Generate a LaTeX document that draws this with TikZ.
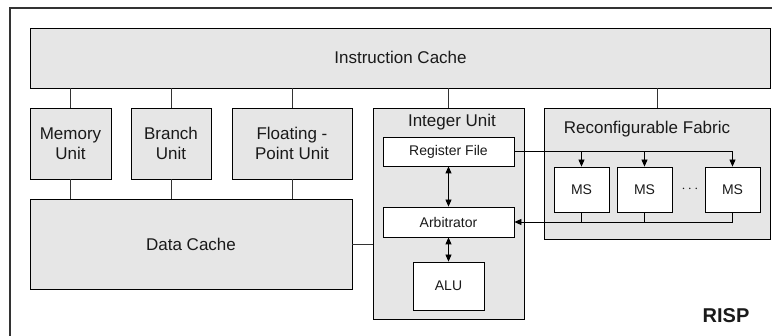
\documentclass[tikz,border=0pt]{standalone}
\usepackage{fontspec}
\setmainfont{Liberation Sans}
\usetikzlibrary{arrows.meta}
\definecolor{boxfill}{HTML}{E6E6E6}
\definecolor{txt}{HTML}{1A1A1A}
\begin{document}
\begin{tikzpicture}[x=1pt,y=-1pt,
  unit/.style={draw=black,fill=boxfill,line width=0.8pt,inner sep=0pt,text=txt,
    font=\fontsize{17}{20}\selectfont,align=center},
  small/.style={draw=black,fill=white,line width=0.8pt,inner sep=0pt,text=txt,
    font=\fontsize{14}{16}\selectfont,align=center},
  link/.style={line width=0.8pt,draw=black!80},
  arr/.style={line width=0.8pt,-{Triangle[length=7pt,width=6pt]}},
  darr/.style={line width=0.8pt,{Triangle[length=7pt,width=6pt]}-{Triangle[length=7pt,width=6pt]}}]
\useasboundingbox (0,0) rectangle (772,336);
\clip (0,0) rectangle (772,336);
\draw[line width=1.2pt,draw=black!80] (10,8) rectangle (790,350);

\node[unit,minimum width=740pt,minimum height=60pt] (ic) at (400,58) {};
\node[text=txt,font=\fontsize{17}{20}\selectfont] at (400.5,57) {Instruction Cache};

\node[unit,minimum width=81pt,minimum height=71pt] (mu) at (70.5,143.5) {Memory\\Unit};
\node[unit,minimum width=80pt,minimum height=71pt] (bu) at (171,143.5) {Branch\\Unit};
\node[unit,minimum width=120pt,minimum height=71pt] (fp) at (292,143.5) {Floating -\\Point Unit};
\node[unit,minimum width=322pt,minimum height=90pt] (dc) at (191,244) {Data Cache};

\node[unit,minimum width=151pt,minimum height=211pt] (iu) at (448.5,213.5) {};
\node[text=txt,font=\fontsize{17}{20}\selectfont] (iut) at (452,122) {Integer Unit};
\node[small,minimum width=131pt,minimum height=29pt] (rf) at (448.5,151.5) {Register File};
\node[small,minimum width=131pt,minimum height=30pt] (arb) at (448.5,222) {Arbitrator};
\node[small,minimum width=71pt,minimum height=48pt] (alu) at (448.5,286) {ALU};

\node[unit,minimum width=226pt,minimum height=131pt] (rcf) at (657,173.5) {};
\node[text=txt,font=\fontsize{17}{20}\selectfont] (rcft) at (647,129) {Reconfigurable Fabric};
\node[small,minimum width=55pt,minimum height=45pt] (ms1) at (581.5,189.5) {MS};
\node[small,minimum width=55pt,minimum height=45pt] (ms2) at (644.5,189.5) {MS};
\node[small,minimum width=55pt,minimum height=45pt] (ms3) at (732.5,189.5) {MS};
\node[text=txt,font=\fontsize{14}{16}\selectfont,inner sep=0pt] (dots) at (690,189) {$\cdots$};

\node[text=txt,font=\fontsize{20}{22}\selectfont\bfseries] (risp) at (726,316) {RISP};

% cache links
\foreach \n in {mu,bu,fp,iu,rcf} \draw[link] (\n.north) -- (\n.north |- ic.south);
\foreach \n in {mu,bu,fp} \draw[link] (\n.south) -- (\n.south |- dc.north);
\draw[link] (dc.east) -- (dc.east -| iu.west);

% integer unit internals
\draw[darr] (rf.south) -- (arb.north);
\draw[darr] (arb.south) -- (alu.north);

% register file to MS
\coordinate (rfend) at (rf.east -| ms3.north);
\draw[line width=0.8pt] (rf.east) -- (rfend);
\draw[arr] (rf.east -| ms1.north) -- (ms1.north);
\draw[arr] (rf.east -| ms2.north) -- (ms2.north);
\draw[arr] (rfend) -- (ms3.north);

% MS to arbitrator
\draw[line width=0.8pt] (ms1.south) -- (ms1.south |- arb.east);
\draw[line width=0.8pt] (ms2.south) -- (ms2.south |- arb.east);
\draw[arr] (ms3.south) -- (ms3.south |- arb.east) -- (arb.east);
\end{tikzpicture}
\end{document}
